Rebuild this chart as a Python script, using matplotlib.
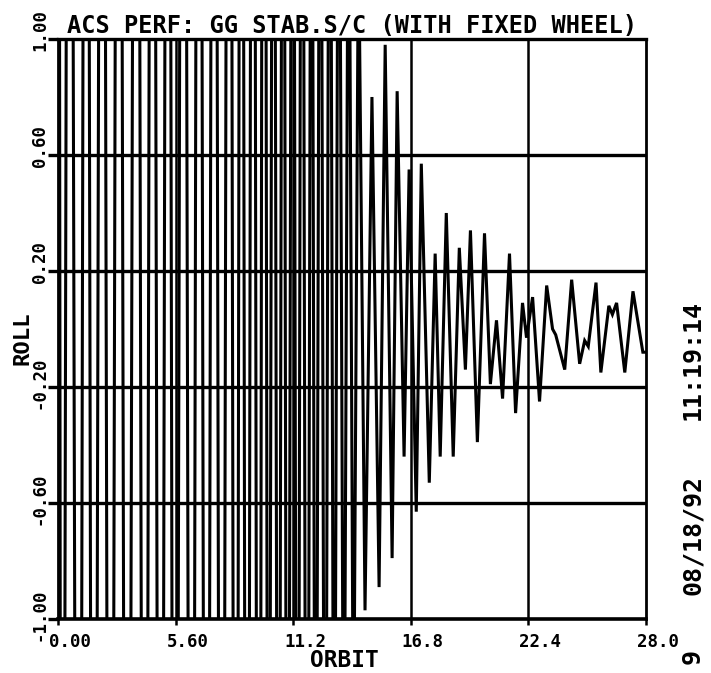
import matplotlib
matplotlib.use("Agg")
import matplotlib.pyplot as plt
import matplotlib.transforms as mtransforms

# ---------------- data ----------------
# extrema of the roll trace (orbit, roll); values beyond +/-1 are off-scale (clipped)
orbit_pts = [0.00, 0.18, 0.54, 0.98, 1.34, 1.70, 2.10, 2.49, 2.89, 3.29,
             3.73, 4.13, 4.49, 4.88, 5.24, 5.56, 5.96, 6.36, 6.71, 7.07,
             7.43, 7.79, 8.15, 8.47, 8.73, 9.00, 9.28, 9.56, 9.80, 10.02,
             10.26, 10.50, 10.72, 10.93, 11.18, 11.40, 11.62, 11.85, 12.07, 12.27,
             12.49, 12.72, 12.94, 13.15, 13.37, 13.61, 13.84, 14.07, 14.31, 14.62,
             14.95, 15.29, 15.58, 15.91, 16.15, 16.48, 16.72, 17.06, 17.30, 17.68,
             17.96, 18.20, 18.49, 18.82, 19.11, 19.40, 19.64, 19.97, 20.31, 20.59,
             20.88, 21.17, 21.50, 21.79, 22.12, 22.31, 22.60, 22.93, 23.27, 23.55,
             23.70, 24.13, 24.46, 24.84, 25.08, 25.25, 25.62, 25.85, 26.23, 26.40,
             26.60, 26.99, 27.38, 27.85, 28.00]
roll_pts = [6.0, -6.0, 6.0, -6.0, 6.0, -6.0, 6.0, -6.0, 6.0, -6.0,
            6.0, -6.0, 6.0, -6.0, 6.0, -6.0, 6.0, -6.0, 6.0, -6.0,
            6.0, -6.0, 6.0, -6.0, 6.0, -6.0, 6.0, -6.0, 6.0, -4.0,
            4.0, -4.0, 4.0, -4.0, 4.0, -4.0, 4.0, -4.0, 3.0, -3.0,
            3.0, -3.0, 3.0, -2.5, 2.5, -2.0, 2.0, -1.6, 1.4, -0.97,
            0.80, -0.89, 0.98, -0.79, 0.82, -0.44, 0.55, -0.63, 0.57, -0.53,
            0.26, -0.44, 0.40, -0.44, 0.28, -0.14, 0.34, -0.39, 0.33, -0.19,
            0.03, -0.24, 0.26, -0.29, 0.09, -0.03, 0.11, -0.25, 0.15, 0.00,
            -0.02, -0.14, 0.17, -0.12, -0.04, -0.06, 0.16, -0.15, 0.08, 0.05,
            0.09, -0.15, 0.13, -0.08, -0.08]

x_ticks = [0.0, 5.6, 11.2, 16.8, 22.4, 28.0]
x_labels = ["0.00", "5.60", "11.2", "16.8", "22.4", "28.0"]
y_ticks = [-1.0, -0.6, -0.2, 0.2, 0.6, 1.0]
y_labels = ["-1.00", "-0.60", "-0.20", "0.20", "0.60", "1.00"]

title = "ACS PERF: GG STAB.S/C (WITH FIXED WHEEL)"
xlabel = "ORBIT"
ylabel = "ROLL"
stamp_parts = ["9", "08/18/92", "11:19:14"]

# ---------------- figure ----------------
DPI = 100
W, H = 711, 673
fig = plt.figure(figsize=(W / DPI, H / DPI), dpi=DPI)
fig.patch.set_facecolor("white")

L, R, T, B = 58, 646, 39, 619  # axes edges in pixels (from top-left)
ax = fig.add_axes([L / W, (H - B) / H, (R - L) / W, (B - T) / H])
ax.set_facecolor("white")

MONO = "DejaVu Sans Mono"
INK = "black"
WGT = "bold"

ax.plot(orbit_pts, roll_pts, color=INK, lw=2.2, solid_joinstyle="miter", zorder=3)

ax.set_xlim(0, 28)
ax.set_ylim(-1, 1)

# grid
for yv in y_ticks[1:-1]:
    ax.axhline(yv, color=INK, lw=2.4, zorder=2)
for xv in x_ticks[1:-1]:
    ax.axvline(xv, color=INK, lw=1.8, zorder=2)

for sp in ax.spines.values():
    sp.set_color(INK)
    sp.set_linewidth(2.0)
ax.spines["bottom"].set_linewidth(2.6)
ax.spines["top"].set_linewidth(2.4)

ax.set_xticks(x_ticks)
ax.set_yticks(y_ticks)
ax.set_xticklabels([])
ax.set_yticklabels([])
ax.tick_params(axis="x", direction="out", length=4, width=1.8, color=INK)
ax.tick_params(axis="y", direction="out", length=7, width=2.4, color=INK)

px = 72.0 / DPI  # points per pixel

# x tick labels
xfs = 12.5
for xv, lab in zip(x_ticks, x_labels):
    tr = mtransforms.blended_transform_factory(ax.transData, ax.transAxes) + \
        mtransforms.ScaledTranslation(12 / DPI, -28 / DPI, fig.dpi_scale_trans)
    ax.text(xv, 0, lab, transform=tr, ha="center", va="baseline",
            fontsize=xfs, family=MONO, weight=WGT, color=INK)

# y tick labels (rotated, decimal point on the grid line)
yfs = 12.5
charw = 0.602 * yfs / px  # pixels per char
for yv, lab in zip(y_ticks, y_labels):
    idx = lab.index(".")
    dy = -(idx + 0.5) * charw + 4
    tr = mtransforms.blended_transform_factory(ax.transAxes, ax.transData) + \
        mtransforms.ScaledTranslation(-18 / DPI, dy / DPI, fig.dpi_scale_trans)
    ax.text(0, yv, lab, transform=tr, rotation=90, rotation_mode="anchor",
            ha="left", va="center", fontsize=yfs, family=MONO, weight=WGT,
            color=INK)

# title
fig.text(352 / W, (H - 33) / H, title, ha="center", va="baseline",
         fontsize=17, family=MONO, weight=WGT, color=INK)
# axis labels
fig.text(344 / W, (H - 667) / H, xlabel, ha="center", va="baseline",
         fontsize=16.4, family=MONO, weight=WGT, color=INK)
fig.text(22 / W, (H - 338) / H, ylabel, ha="center", va="center", rotation=90,
         fontsize=16, family=MONO, weight=WGT, color=INK)

# right-hand stamp
for txt, yc in zip(stamp_parts, [656, 535, 360]):
    fig.text(693 / W, (H - yc) / H, txt, ha="center", va="center", rotation=90,
             fontsize=18, family=MONO, weight=WGT, color=INK)

fig.savefig("out.png", dpi=DPI, facecolor="white")
